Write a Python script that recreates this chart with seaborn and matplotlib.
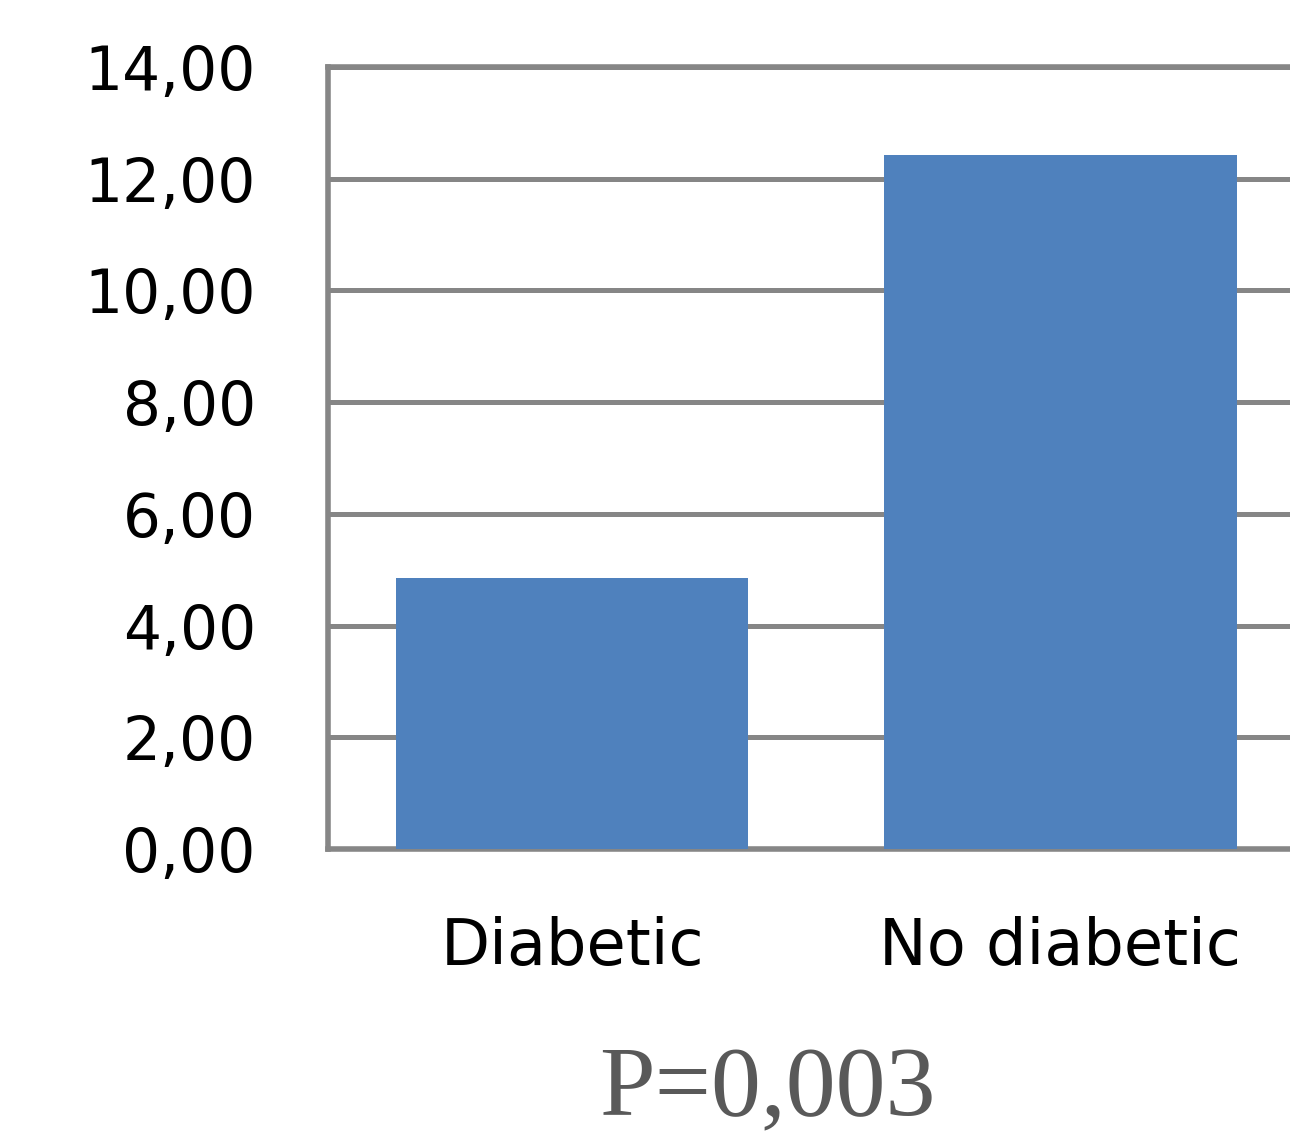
import pandas as pd
import matplotlib
matplotlib.use("Agg")
import matplotlib.pyplot as plt
import seaborn as sns

# Data
groups = ["Diabetic", "No diabetic"]
values = [4.85, 12.42]
y_ticks = [0, 2, 4, 6, 8, 10, 12, 14]
y_tick_labels = ["0,00", "2,00", "4,00", "6,00", "8,00", "10,00", "12,00", "14,00"]
p_text = "P=0,003"

df = pd.DataFrame({"group": groups, "value": values})

sns.set_style("white")
plt.rcParams['font.family'] = ['DejaVu Sans']

fig = plt.figure(figsize=(12.9, 11.36), dpi=100)
ax = fig.add_axes([0.2543, 0.2526, 0.7457, 0.6884])

grid_color = "#868686"

sns.barplot(data=df, x="group", y="value", color="#4F81BD", saturation=1,
            width=0.722, linewidth=0, edgecolor="none", ax=ax, zorder=3)

ax.set_ylim(0, 14)
ax.set_xlim(-0.5, 1.47)
ax.set_yticks(y_ticks)
ax.set_yticklabels(y_tick_labels, fontsize=43, color="black")
ax.tick_params(axis="y", length=0, pad=52)
ax.tick_params(axis="x", length=0, pad=48, labelsize=46, labelcolor="black")

ax.yaxis.grid(True, color=grid_color, linewidth=3.6, zorder=0)
ax.set_axisbelow(True)

for side in ["left", "bottom", "top"]:
    ax.spines[side].set_visible(True)
    ax.spines[side].set_color(grid_color)
    ax.spines[side].set_linewidth(4)
ax.spines["right"].set_visible(False)

ax.set_xlabel("")
ax.set_ylabel("")

fig.text(0.595, 0.0185, p_text, ha="center", va="baseline",
         fontsize=72, color="#595959", family=["Liberation Serif", "DejaVu Serif"])

fig.savefig("out.png", dpi=100)
plt.close(fig)
